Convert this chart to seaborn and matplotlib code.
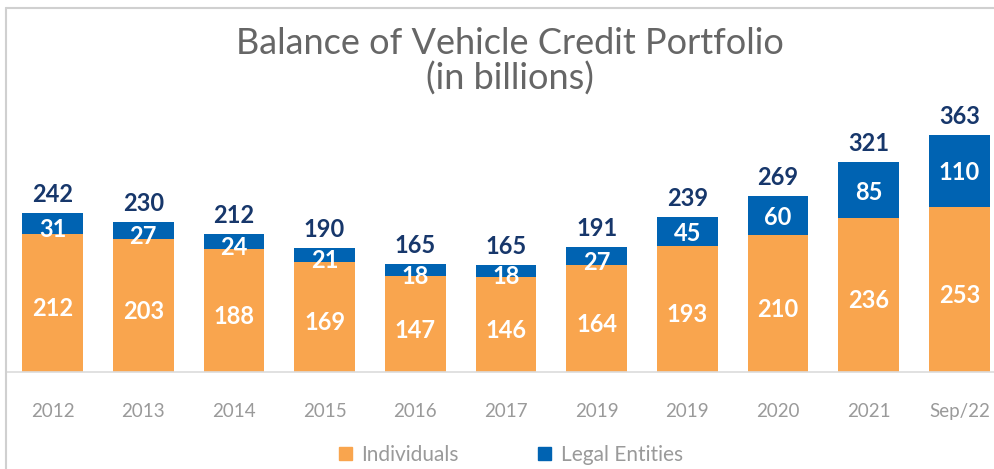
import matplotlib
matplotlib.use("Agg")
import matplotlib.pyplot as plt
import seaborn as sns
import pandas as pd
from matplotlib.lines import Line2D
from matplotlib.patches import Patch

categories = ["2012", "2013", "2014", "2015", "2016", "2017", "2019", "2019 ", "2020", "2021", "Sep/22"]
tick_labels = ["2012", "2013", "2014", "2015", "2016", "2017", "2019", "2019", "2020", "2021", "Sep/22"]
individuals = [212, 203, 188, 169, 147, 146, 164, 193, 210, 236, 253]
legal_entities = [31, 27, 24, 21, 18, 18, 27, 45, 60, 85, 110]
totals = [242, 230, 212, 190, 165, 165, 191, 239, 269, 321, 363]

ORANGE = "#F9A54E"
BLUE = "#0063B2"
NAVY = "#17376B"
GRAY = "#9A9A9A"

sns.set_theme(style="white")
plt.rcParams["font.family"] = ["Lato", "DejaVu Sans"]

W, H = 995, 469
fig = plt.figure(figsize=(W / 100, H / 100), dpi=100)

# axes: pixel box x 7..995, y 8..372 (from top)
ax = fig.add_axes([7 / W, (H - 372) / H, 988 / W, 364 / H])

df = pd.DataFrame({
    "cat": categories,
    "stack": [i + l for i, l in zip(individuals, legal_entities)],
    "ind": individuals,
})

sns.barplot(data=df, x="cat", y="stack", color=BLUE, saturation=1, width=0.67,
            ax=ax, linewidth=0)
sns.barplot(data=df, x="cat", y="ind", color=ORANGE, saturation=1, width=0.67,
            ax=ax, linewidth=0)

px_per_unit = 90.7
xmin = -(52.5 - 7) / px_per_unit
ax.set_xlim(xmin, xmin + 988 / px_per_unit)
ax.set_ylim(0, 364 / 0.653)

LBL = 17
for i, (ind, le, tot) in enumerate(zip(individuals, legal_entities, totals)):
    stack = ind + le
    ax.annotate(str(tot), (i, stack), xytext=(0, 7), textcoords="offset pixels",
                ha="center", va="bottom", fontsize=LBL, fontweight="bold", color=NAVY)
    ax.annotate(str(le), (i, ind + le / 2), xytext=(0, -2 if le > 40 else -6),
                textcoords="offset pixels", ha="center", va="center",
                fontsize=LBL, fontweight="bold", color="white")
    ax.annotate(str(ind), (i, ind / 2), xytext=(0, -6), textcoords="offset pixels",
                ha="center", va="center", fontsize=LBL, fontweight="bold", color="white")

ax.set_xticks(range(len(tick_labels)))
ax.set_xticklabels(tick_labels, fontsize=13.5, color=GRAY)
ax.tick_params(axis="x", length=0, pad=22)
ax.set_yticks([])
ax.set_xlabel("")
ax.set_ylabel("")
for s in ["top", "right", "left"]:
    ax.spines[s].set_visible(False)
ax.spines["bottom"].set_color("#DCDCDC")
ax.spines["bottom"].set_linewidth(1.2)
ax.patch.set_alpha(0)

# outer frame lines (top and left)
fig.add_artist(Line2D([6 / W, 1], [1 - 8 / H, 1 - 8 / H], color="#D0D0D0", lw=1.5, transform=fig.transFigure))
fig.add_artist(Line2D([6 / W, 6 / W], [0, 1 - 8 / H], color="#D0D0D0", lw=1.5, transform=fig.transFigure))

fig.text(510 / W, 1 - 43 / H, "Balance of Vehicle Credit Portfolio", ha="center", va="center",
         fontsize=26, color="#666666", fontweight="normal")
fig.text(510 / W, 1 - 79 / H, "(in billions)", ha="center", va="center",
         fontsize=26, color="#666666", fontweight="normal")

handles = [Patch(color=ORANGE, label="Individuals"), Patch(color=BLUE, label="Legal Entities")]
leg = fig.legend(handles=handles, loc="center", bbox_to_anchor=(511 / W, 1 - 455 / H), ncol=2,
                 frameon=False, fontsize=15, handlelength=0.62, handleheight=0.62,
                 handletextpad=0.45, columnspacing=3.8, borderpad=0.1)
for t in leg.get_texts():
    t.set_color(GRAY)

fig.savefig("out.png", dpi=100)
